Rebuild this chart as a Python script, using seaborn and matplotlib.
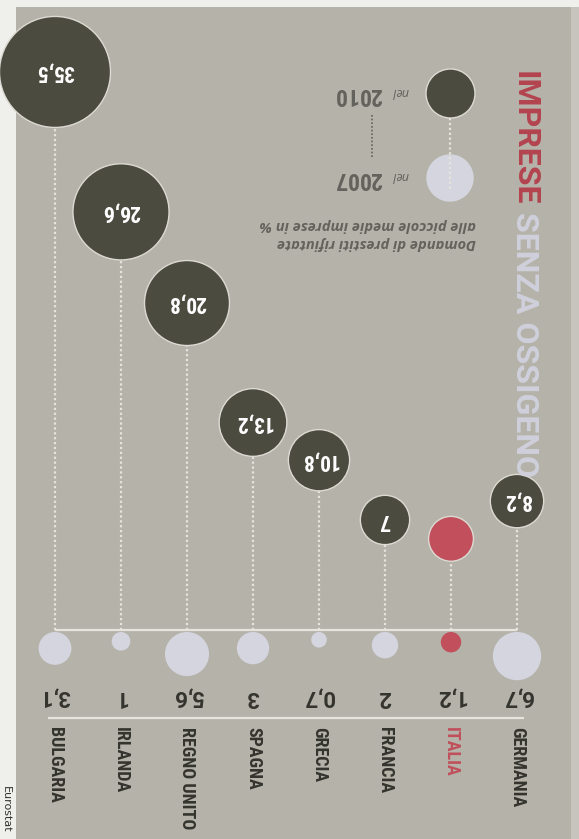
import matplotlib
matplotlib.use("Agg")
import matplotlib.pyplot as plt
import matplotlib.patches as mpatches
from matplotlib import font_manager
import seaborn as sns
import pandas as pd
import numpy as np

# dati (Eurostat): domande di prestiti rifiutate alle piccole medie imprese, %
paesi = ["BULGARIA", "IRLANDA", "REGNO UNITO", "SPAGNA", "GRECIA", "FRANCIA", "ITALIA", "GERMANIA"]
val_2007 = [3.1, 1, 5.6, 3, 0.7, 2, 1.2, 6.7]
# Italia 2010 senza etichetta nell'originale: stimato dalla dimensione del cerchio
val_2010 = [35.5, 26.6, 20.8, 13.2, 10.8, 7, 5.8, 8.2]
senza_etichetta = ["ITALIA"]

titolo_1 = "IMPRESE"
titolo_2 = "SENZA OSSIGENO"
sottotitolo = "Domande di prestiti rifiutate\nalle piccole medie imprese in %"
fonte = "Eurostat"

# colori
CARTA = "#efefec"
FONDO = "#b5b3a9"
SCURO = "#4b4b40"
CHIARO = "#d5d5e0"
ROSSO = "#c14f5c"
ROSSO_TIT = "#b3444f"
LAVANDA = "#cfd0dc"
TESTO = "#34342e"
GRIGIO = "#64625c"
LINEA = "#e6e4dc"
BORDO = "#dcdad2"

# layout (pixel)
W, H = 579, 839
X0, DX = 55, 66          # prima colonna, passo colonne
Y_BASE = 630             # linea di base
K = 15.72                # pixel per punto percentuale
VMAX = 35.5
SMAX = 6387              # area (pt^2) del cerchio piu grande

sns.set_theme(style="white")
nomi = {f.name for f in font_manager.fontManager.ttflist}


def scegli(lista):
    for n in lista:
        if n in nomi:
            return n
    return "DejaVu Sans"


NARROW = scegli(["Roboto Condensed", "Barlow Condensed", "Fira Sans Condensed", "PT Sans Narrow",
                 "Archivo Narrow", "Liberation Sans Narrow"])
LARGO = scegli(["Roboto", "Open Sans"])
CORSIVO = scegli(["Open Sans", "Noto Sans", "Lato"])
plt.rcParams["font.family"] = [NARROW, "DejaVu Sans"]


def raggio_px(v):
    return np.sqrt(SMAX * np.asarray(v, dtype=float) / VMAX) / 0.72 / 2


def fx(px):
    return px / W


def fy(py):
    return 1 - py / H


def num(v):
    return f"{v:g}".replace(".", ",")


df = pd.DataFrame({"paese": paesi, "v2007": val_2007, "v2010": val_2010})
df["pos"] = np.arange(len(df))
df["italia"] = df["paese"] == "ITALIA"
df["y2007"] = -(2 + raggio_px(df["v2007"])) / K
df["fine_stelo"] = df["v2010"] - raggio_px(df["v2010"]) / K

fig = plt.figure(figsize=(W / 100, H / 100), dpi=100)
fig.patch.set_facecolor(CARTA)

ax = fig.add_axes([0, 0, 1, 1])
ax.set_facecolor("none")
ax.add_patch(mpatches.Rectangle((fx(16), 0), fx(571) - fx(16), fy(7), transform=fig.transFigure,
                                facecolor=FONDO, edgecolor="none", zorder=0, clip_on=False))
ax.add_patch(mpatches.Rectangle((fx(571), 0), fx(W) - fx(571), fy(7), transform=fig.transFigure,
                                facecolor="#c6c4bc", edgecolor="none", zorder=0, clip_on=False))

# steli e linee orizzontali
ax.vlines(df["pos"], 0, df["fine_stelo"], colors=LINEA, linestyles=(0, (1, 1.2)), lw=1.6, zorder=1)
ax.hlines(0, 0, len(df) - 1, colors=LINEA, lw=1.6, zorder=1)
ax.hlines((Y_BASE - 718) / K, -0.11, len(df) - 1 + 0.11, colors=LINEA, lw=1.6, zorder=1)

# cerchi 2010 e 2007
sns.scatterplot(data=df, x="pos", y="v2010", size="v2010", sizes=(0, SMAX), size_norm=(0, VMAX),
                hue="italia", palette={False: SCURO, True: ROSSO}, edgecolor=BORDO, linewidth=1,
                legend=False, ax=ax, zorder=3)
sns.scatterplot(data=df, x="pos", y="y2007", size="v2007", sizes=(0, SMAX), size_norm=(0, VMAX),
                hue="italia", palette={False: CHIARO, True: ROSSO}, edgecolor="none", linewidth=0,
                legend=False, ax=ax, zorder=3)

for _, r in df.iterrows():
    if r["paese"] not in senza_etichetta:
        ax.text(r["pos"], r["v2010"], num(r["v2010"]), rotation=180, ha="center", va="center",
                color="white", fontsize=15.5, fontweight="bold", zorder=4)
    ax.text(r["pos"], (Y_BASE - 697) / K, num(r["v2007"]), rotation=180, ha="center", va="center",
            color=TESTO, fontsize=16, fontweight="bold", family=[LARGO, "DejaVu Sans"])
    ax.text(r["pos"], (Y_BASE - 727) / K, r["paese"], rotation=-90, ha="center", va="top",
            color=ROSSO if r["italia"] else TESTO, fontsize=13, fontweight="bold")

ax.set_xlim(-X0 / DX, (W - X0) / DX)
ax.set_ylim(-(H - Y_BASE) / K, Y_BASE / K)
ax.axis("off")

# titolo verticale
t1 = fig.text(fx(525), fy(71), titolo_1, rotation=-90, ha="center", va="top",
              color=ROSSO_TIT, fontsize=23, fontweight="bold", family=[LARGO, "DejaVu Sans"])
fig.canvas.draw()
bb = t1.get_window_extent(fig.canvas.get_renderer())
fig.text(fx(525), (bb.y0 - 7) / H, titolo_2, rotation=-90, ha="center", va="top",
         color=LAVANDA, fontsize=23, fontweight="bold", family=[LARGO, "DejaVu Sans"])

# legenda
ax.scatter([fx(450)], [fy(93)], s=(2 * 24.5 * 0.72) ** 2, color=SCURO, edgecolors=BORDO, linewidths=1,
           transform=fig.transFigure, zorder=3)
ax.scatter([fx(450)], [fy(178)], s=(2 * 23.7 * 0.72) ** 2, color=CHIARO, edgecolors="none",
           transform=fig.transFigure, zorder=3)
ax.plot([fx(450), fx(450)], [fy(118), fy(190)], color=LINEA, ls=(0, (1, 1.2)), lw=1.6,
        transform=fig.transFigure, zorder=4)
ax.plot([fx(372), fx(372)], [fy(115), fy(157)], color=GRIGIO, ls=(0, (1, 1.2)), lw=1.2,
        transform=fig.transFigure, zorder=2)
for anno, yb in [("2010", 88), ("2007", 172)]:
    fig.text(fx(409), fy(yb), "nel", rotation=180, rotation_mode="anchor", ha="left", va="baseline",
             color=GRIGIO, fontsize=9, fontstyle="italic", family=[CORSIVO, "DejaVu Sans"])
    fig.text(fx(382), fy(yb), anno, rotation=180, rotation_mode="anchor", ha="left", va="baseline",
             color=GRIGIO, fontsize=17, fontweight="bold")
fig.text(fx(476), fy(234), sottotitolo, rotation=180, ha="right", va="center", multialignment="left",
         color=GRIGIO, fontsize=10.5, fontstyle="italic", fontweight="bold", linespacing=1.35,
         family=[CORSIVO, "DejaVu Sans"])

# fonte
fig.text(fx(1), fy(786), fonte, rotation=-90, ha="left", va="top", color=TESTO, fontsize=8,
         family=["DejaVu Sans"])

fig.savefig("out.png", dpi=100, facecolor=fig.get_facecolor())
